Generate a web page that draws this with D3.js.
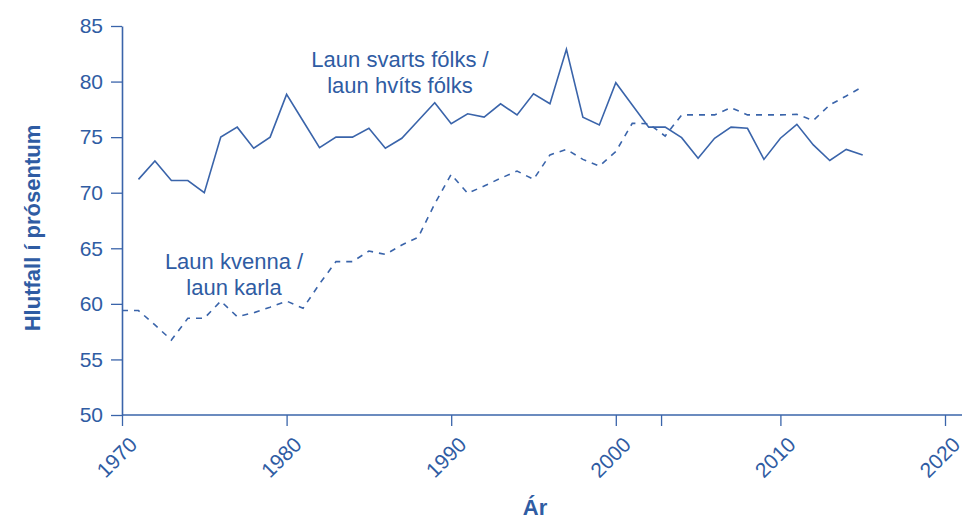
<!DOCTYPE html>
<html>
<head>
<meta charset="utf-8">
<script src="https://cdn.jsdelivr.net/npm/d3@7"></script>
<style>
  html, body { margin: 0; padding: 0; background: #fff; }
  svg { display: block; }
  text { font-family: "Liberation Sans", Arial, sans-serif; }
</style>
</head>
<body>
<svg id="chart" width="976" height="531"></svg>
<script>
// ---- data ----
const years = [1970,1971,1972,1973,1974,1975,1976,1977,1978,1979,
               1980,1981,1982,1983,1984,1985,1986,1987,1988,1989,
               1990,1991,1992,1993,1994,1995,1996,1997,1998,1999,
               2000,2001,2002,2003,2004,2005,2006,2007,2008,2009,
               2010,2011,2012,2013,2014,2015];
// Laun svarts fólks / laun hvíts fólks (solid)
const blackWhite = [null,71.2,72.85,71.1,71.1,70.0,75.0,75.9,74.0,75.0,
                    78.85,76.45,74.05,75.0,75.0,75.8,74.0,74.9,76.5,78.1,
                    76.2,77.1,76.8,78.0,77.0,78.9,78.0,82.9,76.8,76.1,
                    79.9,77.9,75.9,75.9,74.95,73.1,74.9,75.9,75.8,73.0,
                    74.9,76.15,74.3,72.9,73.9,73.4];
// Laun kvenna / laun karla (dashed)
const womenMen = [59.4,59.4,58.1,56.75,58.7,58.7,60.25,58.85,59.2,59.7,
                  60.25,59.6,61.8,63.8,63.8,64.75,64.45,65.3,66.0,69.0,
                  71.65,69.95,70.6,71.3,71.95,71.2,73.4,73.9,73.0,72.4,
                  73.7,76.25,76.2,75.1,77.0,77.0,77.0,77.65,77.0,77.0,
                  77.0,77.05,76.5,77.9,78.7,79.55];
const xTickLabels = [1970,1980,1990,2000,2010,2020];
const xTickExtra = [2002.75];
const yTicks = [50,55,60,65,70,75,80,85];
const labelBW = ["Laun svarts fólks /", "laun hvíts fólks"];
const labelWM = ["Laun kvenna /", "laun karla"];
const yTitle = "Hlutfall í prósentum";
const xTitle = "Ár";

// ---- styles ----
const textColor = "#2f5ca3";
const lineColor = "#3a64aa";

const svg = d3.select("#chart");
const x = d3.scaleLinear().domain([1970, 2020]).range([122, 945]);
const y = d3.scaleLinear().domain([50, 85]).range([415, 26]);

// y axis
const yAxis = svg.append("g")
  .attr("transform", `translate(${x(1970)},0)`)
  .call(d3.axisLeft(y).tickValues(yTicks).tickSize(11).tickPadding(8).tickSizeOuter(0));
yAxis.select(".domain").attr("stroke", lineColor).attr("stroke-width", 1.6);
yAxis.selectAll(".tick line").attr("stroke", lineColor).attr("stroke-width", 1.3);
yAxis.selectAll(".tick text").attr("fill", textColor).style("font-size", "21px");

// x axis
const xAxis = svg.append("g")
  .attr("transform", `translate(0,${y(50)})`)
  .call(d3.axisBottom(x).tickValues(xTickLabels.concat(xTickExtra))
    .tickFormat(d => xTickLabels.includes(d) ? String(d) : "")
    .tickSize(11).tickSizeOuter(0));
xAxis.select(".domain").remove();
xAxis.append("line")
  .attr("x1", x(1970)).attr("x2", 962)
  .attr("y1", 0).attr("y2", 0)
  .attr("stroke", lineColor).attr("stroke-width", 1.6);
xAxis.selectAll(".tick line").attr("stroke", lineColor).attr("stroke-width", 1.3);
xAxis.selectAll(".tick text")
  .attr("fill", textColor)
  .style("font-size", "21px")
  .attr("text-anchor", "end")
  .attr("x", 0).attr("y", 0).attr("dy", 0)
  .attr("transform", "translate(16,31) rotate(-45)");

// lines
const lineBW = d3.line()
  .defined((d, i) => blackWhite[i] != null)
  .x((d, i) => x(years[i]))
  .y((d, i) => y(blackWhite[i]));
const lineWM = d3.line()
  .x((d, i) => x(years[i]))
  .y((d, i) => y(womenMen[i]));

svg.append("path")
  .datum(years)
  .attr("d", lineWM)
  .attr("fill", "none")
  .attr("stroke", lineColor)
  .attr("stroke-width", 1.6)
  .attr("stroke-dasharray", "6,6");

svg.append("path")
  .datum(years)
  .attr("d", lineBW)
  .attr("fill", "none")
  .attr("stroke", lineColor)
  .attr("stroke-width", 1.6)
  .attr("stroke-linejoin", "miter");

// annotations
function multiLine(lines, cx, baseY, lh) {
  const t = svg.append("text")
    .attr("text-anchor", "middle")
    .attr("fill", textColor)
    .style("font-size", "22px");
  lines.forEach((s, i) => {
    t.append("tspan").attr("x", cx).attr("y", baseY + i * lh).text(s);
  });
}
multiLine(labelBW, 400, 67, 26);
multiLine(labelWM, 234, 269, 26);

// axis titles
svg.append("text")
  .attr("transform", "translate(40,228) rotate(-90)")
  .attr("text-anchor", "middle")
  .attr("fill", textColor)
  .style("font-size", "22px")
  .style("font-weight", "bold")
  .text(yTitle);

svg.append("text")
  .attr("x", 535).attr("y", 515)
  .attr("text-anchor", "middle")
  .attr("fill", textColor)
  .style("font-size", "22px")
  .style("font-weight", "bold")
  .text(xTitle);
</script>
</body>
</html>
